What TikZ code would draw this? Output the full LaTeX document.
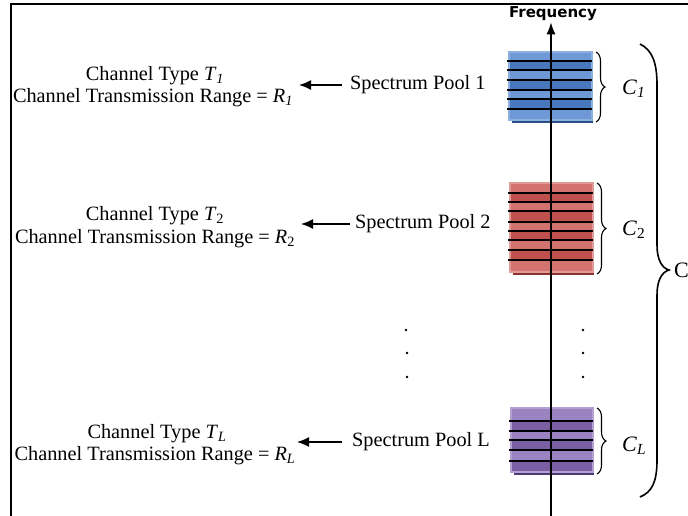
\documentclass[tikz,border=0pt]{standalone}
\usepackage{fontspec}
\setmainfont{Liberation Serif}
\newfontfamily\axisfont{DejaVu Sans}
\usetikzlibrary{decorations.pathreplacing,arrows.meta}

\definecolor{bluedark}{HTML}{2A4F88}
\definecolor{bluemid}{HTML}{4877BE}
\definecolor{bluelight}{HTML}{6E98D6}
\definecolor{blueedge}{HTML}{8DB0E0}
\definecolor{reddark}{HTML}{8A3230}
\definecolor{redmid}{HTML}{C0504D}
\definecolor{redlight}{HTML}{D27370}
\definecolor{rededge}{HTML}{E09A98}
\definecolor{purpledark}{HTML}{4F3A74}
\definecolor{purplemid}{HTML}{7B5FA5}
\definecolor{purplelight}{HTML}{9A83C0}
\definecolor{purpleedge}{HTML}{B3A0D3}

% striped spectrum block: x-left, x-right, top, bottom, light bands, channel lines, colour prefix
\newcommand\poolblock[7]{%
  \fill[#7dark] (#1+3,#3+3) rectangle (#2+1,#4+3);
  \fill[#7mid] (#1,#3) rectangle (#2,#4);
  \foreach \a/\b in {#5} \fill[#7light] (#1,\a) rectangle (#2,\b);
  \draw[#7edge, line width=1.6pt] (#1,#3) rectangle (#2,#4);
  \foreach \yy in {#6} \draw[line width=1.4pt] (#1-2,\yy) -- (#2,\yy);
}

\tikzset{
  lbl/.style={font=\fontsize{20.3}{23}\selectfont, inner sep=0pt},
  clbl/.style={font=\fontsize{22}{25}\selectfont, inner sep=0pt, anchor=west},
  arr/.style={line width=1.5pt, -{Latex[length=12pt,width=10pt]}},
  smallbrace/.style={decorate, decoration={brace, amplitude=9pt}, line width=1.1pt},
  dot/.style={fill=black},
}

\begin{document}
\begin{tikzpicture}[x=1pt,y=-1pt]
\useasboundingbox (0,0) rectangle (688,515);
\fill[white] (0,0) rectangle (688,515);

% outer frame (left and top edges)
\draw[line width=2pt] (11,530) -- (11,4) -- (700,4);

% spectrum blocks
\poolblock{509}{592}{52}{120}{52/61,70/80,90/99,109/120}{61,70,80,90,99,109}{blue}
\poolblock{510}{593}{183}{272}{183/193,202/211,222/231,240/250,260/272}{193,202,211,222,231,240,250,260}{red}
\poolblock{511}{593}{408}{472}{408/421,431/440,450/461}{421,431,440,450,461}{purple}

% frequency axis
\node[font=\axisfont\bfseries\fontsize{15}{17}\selectfont, inner sep=1pt] (freq) at (553,14) {Frequency};
\coordinate (axbottom) at (551,530);
\draw[line width=1.5pt, -{Latex[length=12pt,width=9pt]}] (axbottom) -- (axbottom |- freq.south);

% pool 1
\node[lbl] (t1) at (155,76) {Channel Type \textit{T}\textsubscript{\textit{1}}};
\node[lbl] (r1) at (153,98) {Channel Transmission Range = \textit{R}\textsubscript{\textit{1}}};
\node[lbl, anchor=west] (p1) at (350,85) {Spectrum Pool 1};
\coordinate (h1) at (299,85);
\draw[arr] ([xshift=-8pt]p1.west) -- (h1);

% pool 2
\node[lbl] (t2) at (155,216) {Channel Type \textit{T}\textsubscript{2}};
\node[lbl] (r2) at (155,239) {Channel Transmission Range = \textit{R}\textsubscript{2}};
\node[lbl, anchor=west] (p2) at (355,224) {Spectrum Pool 2};
\coordinate (h2) at (301,224);
\draw[arr] ([xshift=-5pt]p2.west) -- (h2);

% pool L
\node[lbl] (tL) at (157,434) {Channel Type \textit{T}\textsubscript{\textit{L}}};
\node[lbl] (rL) at (155,456) {Channel Transmission Range = \textit{R}\textsubscript{\textit{L}}};
\node[lbl, anchor=west] (pL) at (352,442) {Spectrum Pool L};
\coordinate (hL) at (297,442);
\draw[arr] ([xshift=-10pt]pL.west) -- (hL);

% vertical ellipses
\foreach \xx/\yy in {406/330,407/353,407/377,583/330,583/353,583/377}
  \fill[dot] (\xx,\yy) circle (1.3pt);

% per-pool braces and labels
\coordinate (b1t) at (596,52);  \coordinate (b1b) at (596,122);
\coordinate (b2t) at (597,183); \coordinate (b2b) at (597,274);
\coordinate (bLt) at (597,408); \coordinate (bLb) at (597,474);
\draw[smallbrace] (b1t) -- (b1b);
\draw[smallbrace] (b2t) -- (b2b);
\draw[smallbrace] (bLt) -- (bLb);
\node[clbl] (c1) at (622,89) {\textit{C}\textsubscript{\textit{1}}};
\node[clbl] (c2) at (622,230) {\textit{C}\textsubscript{2}};
\node[clbl] (cL) at (622,446) {\textit{C}\textsubscript{\textit{L}}};

% overall brace
\coordinate (bigtop) at (640,44);
\coordinate (bigtip) at (669,270);
\coordinate (bigbot) at (640,497);
\draw[line width=1.6pt] (bigtop) .. controls (652,50) and (657,62) .. (657,85)
  -- (657,245) .. controls (657,260) and (662,268) .. (bigtip)
  .. controls (662,272) and (657,280) .. (657,295)
  -- (657,460) .. controls (657,482) and (652,492) .. (bigbot);
\node[font=\fontsize{22}{25}\selectfont, inner sep=0pt, anchor=west] (call) at (674,270) {C};
\end{tikzpicture}
\end{document}
